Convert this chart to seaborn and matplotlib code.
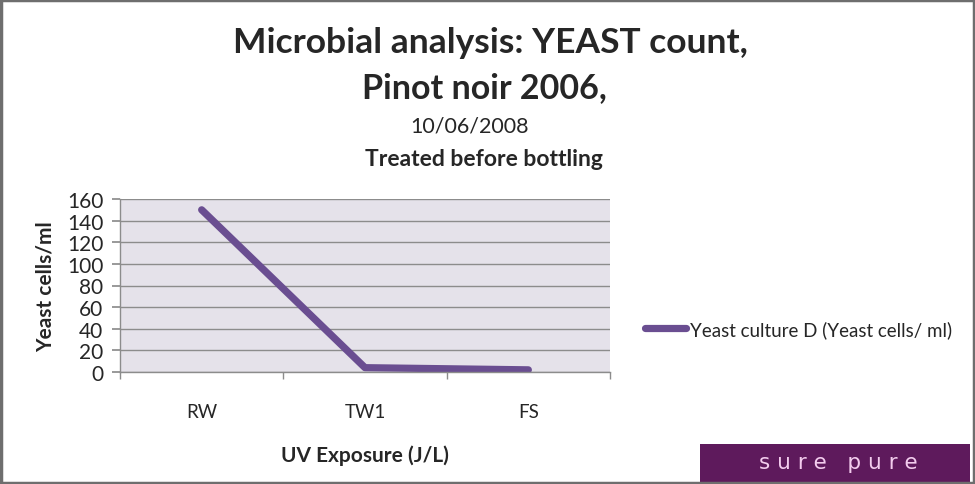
import matplotlib
matplotlib.use('Agg')
import matplotlib.pyplot as plt
import seaborn as sns
import pandas as pd
from matplotlib.patches import Rectangle

# data
categories = ['RW', 'TW1', 'FS']
yeast_culture_d = [150, 4, 2]
series_name = 'Yeast culture D (Yeast cells/ ml)'
y_ticks = [0, 20, 40, 60, 80, 100, 120, 140, 160]

LINE_COLOR = '#6A4E91'
PLOT_BG = '#E5E2EA'
GRID_COLOR = '#8C8C8C'

sns.set_theme(style='white')
plt.rcParams['font.family'] = ['Lato', 'DejaVu Sans']

df = pd.DataFrame({'x': range(len(categories)), 'value': yeast_culture_d})

fig = plt.figure(figsize=(9.75, 4.85), dpi=100)
ax = fig.add_axes([120 / 975, 1 - 373 / 485, 490 / 975, 173 / 485])
ax.set_facecolor(PLOT_BG)

sns.lineplot(data=df, x='x', y='value', ax=ax, color=LINE_COLOR, linewidth=5.2,
             solid_capstyle='round', label=series_name, legend=False)

ax.set_xlim(-0.5, len(categories) - 0.5)
ax.set_ylim(0, 160)
ax.set_yticks(y_ticks)
ax.set_yticklabels([str(v) for v in y_ticks], fontsize=15)
ax.yaxis.grid(True, color=GRID_COLOR, linewidth=1)
ax.set_axisbelow(True)

ax.set_xticks(range(len(categories)))
ax.set_xticklabels(categories, fontsize=13.5)
ax.set_xticks([i - 0.5 for i in range(len(categories) + 1)], minor=True)
ax.tick_params(axis='x', which='major', length=0, pad=22)
ax.tick_params(axis='x', which='minor', length=5, color=GRID_COLOR, direction='out', bottom=True)
ax.tick_params(axis='y', length=6, color=GRID_COLOR, direction='out', left=True, pad=6)

for side in ['top', 'right']:
    ax.spines[side].set_visible(False)
for side in ['left', 'bottom']:
    ax.spines[side].set_color(GRID_COLOR)
    ax.spines[side].set_linewidth(1)

ax.set_xlabel('UV Exposure (J/L)', fontsize=15, fontweight='bold', labelpad=18)
ax.set_ylabel('Yeast cells/ml', fontsize=15, fontweight='bold', labelpad=8)

# titles
fig.text(490 / 975, 1 - 43 / 485, 'Microbial analysis: YEAST count,', ha='center', va='center',
         fontsize=25.5, fontweight='bold')
fig.text(484 / 975, 1 - 88 / 485, 'Pinot noir 2006,', ha='center', va='center',
         fontsize=24.5, fontweight='bold')
fig.text(470 / 975, 1 - 127 / 485, '10/06/2008', ha='center', va='center', fontsize=15.5)
fig.text(484 / 975, 1 - 160 / 485, 'Treated before bottling', ha='center', va='center',
         fontsize=16.5, fontweight='bold')

# legend
handles, labels = ax.get_legend_handles_labels()
fig.legend(handles, labels, loc='center left', bbox_to_anchor=(628 / 975, 1 - 330 / 485),
           frameon=False, fontsize=13.5, handlelength=2.2, handletextpad=0.2)

# logo box
fig.patches.append(Rectangle((700 / 975, 1 - 483 / 485), 270 / 975, 38 / 485,
                             transform=fig.transFigure, facecolor='#5E1A5C', edgecolor='none'))
fig.text(838 / 975, 1 - 463 / 485, 's u r e   p u r e', ha='center', va='center',
         fontsize=15.5, color='#F3CCEE', family='DejaVu Sans')

# outer frame
fig.patches.append(Rectangle((0.0015, 0.002), 0.997, 0.995, transform=fig.transFigure,
                             facecolor='none', edgecolor='#6E6E6E', linewidth=2.5))

fig.savefig('out.png', dpi=100)
